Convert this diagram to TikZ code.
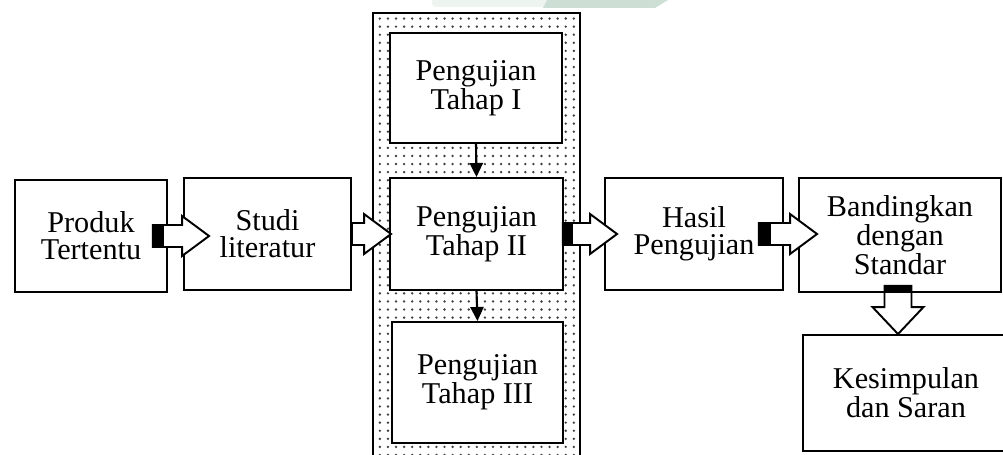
\documentclass[tikz,border=0pt]{standalone}
\usepackage{fontspec}
\setmainfont{Liberation Serif}
\usetikzlibrary{calc, patterns.meta, arrows.meta}
\definecolor{wmlight}{HTML}{EEF4F0}
\definecolor{wmgreen}{HTML}{CDDFD4}
\tikzset{
    flow box/.style = {rectangle, draw=black, line width=1.1pt, fill=white, align=center, inner sep=2pt, font=\fontsize{17.2}{15.5}\selectfont},
    test frame/.style = {draw=black, line width=1.6pt, pattern={Dots[distance=4.6pt, radius=0.75pt]}, pattern color=black!75},
    fat arrow/.style = {draw=black, line width=1.1pt, fill=white, line join=miter},
    small arrow/.style = {draw=black, line width=1.2pt, -{Triangle[length=8pt, width=7.5pt]}}
}
% hollow block arrow: start, tip, length of the black tail
\newcommand{\fatarrow}[3]{%
    \draw[fat arrow] let \p1 = #1, \p2 = #2 in
        (\x1, \y1+0.22cm) -- (\x2-0.54cm, \y1+0.22cm) -- (\x2-0.54cm, \y1+0.4cm)
        -- (\x2, \y1) -- (\x2-0.54cm, \y1-0.4cm) -- (\x2-0.54cm, \y1-0.22cm)
        -- (\x1, \y1-0.22cm) -- cycle;
    \fill let \p1 = #1 in (\x1, \y1-0.22cm) rectangle (\x1+#3, \y1+0.22cm);
}

\begin{document}
\begin{tikzpicture}[x=0.02cm, y=-0.02cm]
        \useasboundingbox (0,0) rectangle (1003,455);
        \clip (0,0) rectangle (1003,455);

        % watermark strip
        \fill[wmlight, rounded corners=2pt] (432,-5) rectangle (549,7);
        \fill[wmgreen] (547,0) -- (668,0) -- (655,8) -- (543,8) -- cycle;

        % dotted frame round the tests
        \draw[test frame] (373,13) rectangle (580,470);

        \node[flow box, minimum width=3.04cm, minimum height=2.24cm] (prodbox) at (91,236) {Produk\\Tertentu};
        \node[flow box, minimum width=3.34cm, minimum height=2.24cm] (studibox) at (267.5,234) {Studi\\literatur};
        \node[flow box, minimum width=3.44cm, minimum height=2.2cm] (ujibox1) at (476,88) {Pengujian\\Tahap I};
        \node[flow box, minimum width=3.46cm, minimum height=2.24cm] (ujibox2) at (476.5,234) {Pengujian\\Tahap II};
        \node[flow box, minimum width=3.42cm, minimum height=2.42cm] (ujibox3) at (477.5,382.5) {Pengujian\\Tahap III};
        \node[flow box, minimum width=3.56cm, minimum height=2.24cm] (hasilbox) at (694,234) {Hasil\\Pengujian};
        \node[flow box, minimum width=4.04cm, minimum height=2.28cm, font=\fontsize{17.2}{14}\selectfont] (bandbox) at (900,235) {Bandingkan\\dengan\\Standar};
        \node[flow box, minimum width=4.12cm, minimum height=2.32cm] (kesbox) at (906,393) {Kesimpulan\\dan Saran};

        \draw[small arrow] (ujibox1.south) -- (ujibox2.north);
        \draw[small arrow] (ujibox2.south) -- (ujibox3.north);

        \fatarrow{($(prodbox.east)+(-15,0)$)}{($(studibox.west)+(26,0)$)}{0.22cm}
        \fatarrow{(studibox.east)}{($(ujibox2.west)+(2,0)$)}{0cm}
        \fatarrow{($(ujibox2.east)+(-1,0)$)}{($(hasilbox.west)+(13,0)$)}{0.2cm}
        \fatarrow{($(hasilbox.east)+(-25,0)$)}{($(bandbox.west)+(19,0)$)}{0.24cm}

        % downward arrow to the conclusion
        \draw[fat arrow] let \p1 = ($(bandbox.south)+(-2,-7)$), \p2 = (kesbox.north) in
            (\x1-0.27cm, \y1) -- (\x1-0.27cm, \y2+0.54cm) -- (\x1-0.51cm, \y2+0.54cm)
            -- (\x1, \y2) -- (\x1+0.51cm, \y2+0.54cm) -- (\x1+0.27cm, \y2+0.54cm)
            -- (\x1+0.27cm, \y1) -- cycle;
        \fill let \p1 = ($(bandbox.south)+(-2,-7)$) in (\x1-0.27cm, \y1) rectangle (\x1+0.27cm, \y1-0.14cm);
    \end{tikzpicture}
\end{document}
